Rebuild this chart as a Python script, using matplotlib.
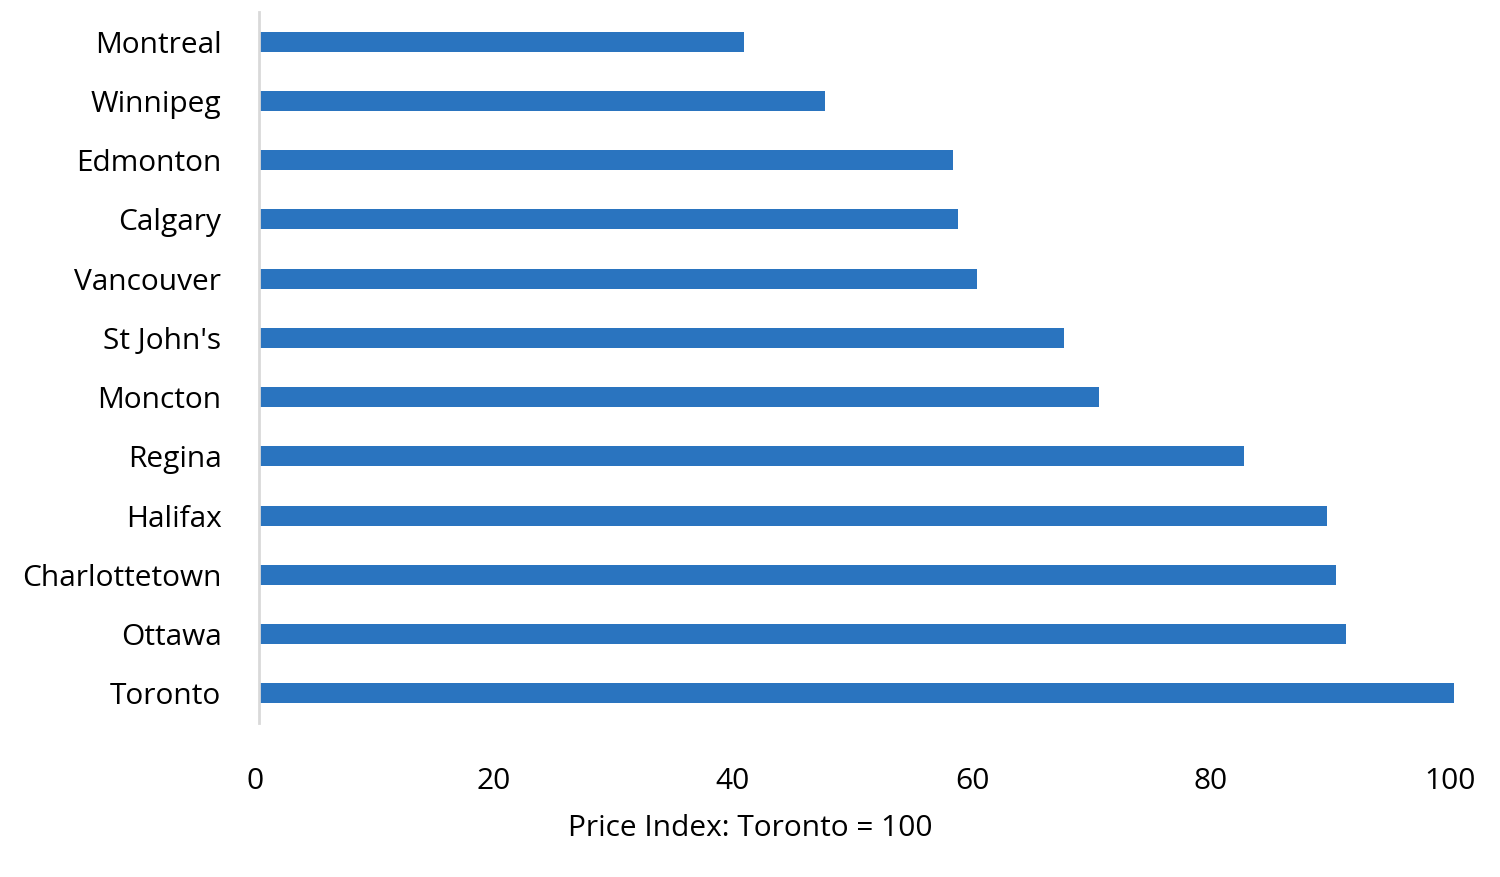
import matplotlib
matplotlib.use('Agg')
import matplotlib.pyplot as plt
import matplotlib.transforms as mtransforms

cities = ['Montreal', 'Winnipeg', 'Edmonton', 'Calgary', 'Vancouver', "St John's",
          'Moncton', 'Regina', 'Halifax', 'Charlottetown', 'Ottawa', 'Toronto']
index = [40.6, 47.4, 58.1, 58.5, 60.1, 67.4, 70.3, 82.4, 89.4, 90.1, 91.0, 100.0]
xticks = [0, 20, 40, 60, 80, 100]

plt.rcParams['font.family'] = ['Open Sans', 'DejaVu Sans']

fig = plt.figure(figsize=(15, 8.77), dpi=100)
ax = fig.add_axes([259/1500, 1-723/877, (1454-259)/1500, (723-12)/877])

pos = list(range(len(cities)))
ax.barh(pos, index, height=0.34, color='#2A74BF')
ax.set_ylim(len(cities)-0.5, -0.5)
ax.set_xlim(0, 100)
ax.set_yticks(pos)
ax.set_yticklabels(cities)
ax.set_xticks(xticks)
ax.tick_params(axis='y', length=0, pad=27, labelsize=21.5)
ax.tick_params(axis='x', length=0, pad=31.5, labelsize=21.5)
# x tick labels sit a few pixels left of their ticks in the original
shift = mtransforms.ScaledTranslation(-4/100, 0, fig.dpi_scale_trans)
for lab in ax.get_xticklabels():
    lab.set_transform(lab.get_transform() + shift)
for s in ['top', 'right', 'bottom']:
    ax.spines[s].set_visible(False)
ax.spines['left'].set_color('#D9D9D9')
ax.spines['left'].set_linewidth(2)

# label is centred on the whole figure, not on the axes
fig.text(0.5, 1-828/877, 'Price Index: Toronto = 100', fontsize=21.5,
         ha='center', va='center')

fig.savefig('out.png', dpi=100)
